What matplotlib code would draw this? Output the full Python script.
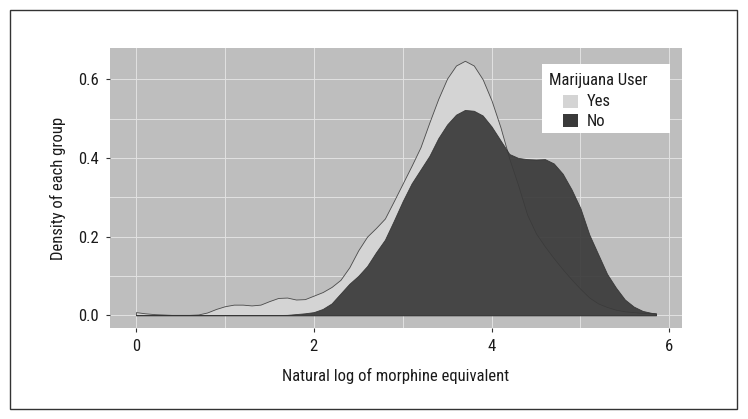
import matplotlib
matplotlib.use('Agg')
import matplotlib.pyplot as plt
from matplotlib.patches import Rectangle

# narrow grotesque, close to the Arial Narrow of the original
plt.rcParams['font.family'] = ['Roboto Condensed', 'Archivo Narrow',
                               'Liberation Sans', 'DejaVu Sans']
FS = 12

# density of natural log of morphine equivalent
x_yes = [0.0, 0.1, 0.2, 0.3, 0.4, 0.5, 0.6, 0.7, 0.8, 0.9,
         1.0, 1.1, 1.2, 1.3, 1.4, 1.5, 1.6, 1.7, 1.8, 1.9,
         2.0, 2.1, 2.2, 2.3, 2.4, 2.5, 2.6, 2.7, 2.8, 2.9,
         3.0, 3.1, 3.2, 3.3, 3.4, 3.5, 3.6, 3.7, 3.8, 3.9,
         4.0, 4.1, 4.2, 4.3, 4.4, 4.5, 4.6, 4.7, 4.8, 4.9,
         5.0, 5.1, 5.2, 5.3, 5.4, 5.5, 5.6, 5.7, 5.8, 5.85]
d_yes = [0.008, 0.005, 0.003, 0.002, 0.001, 0.001, 0.001, 0.002, 0.007, 0.016,
         0.023, 0.027, 0.027, 0.025, 0.027, 0.036, 0.044, 0.045, 0.040, 0.041,
         0.050, 0.059, 0.072, 0.090, 0.122, 0.165, 0.200, 0.222, 0.246, 0.290,
         0.335, 0.380, 0.427, 0.490, 0.550, 0.602, 0.635, 0.647, 0.635, 0.600,
         0.546, 0.478, 0.398, 0.330, 0.256, 0.208, 0.175, 0.145, 0.117, 0.091,
         0.067, 0.045, 0.030, 0.021, 0.014, 0.010, 0.008, 0.006, 0.005, 0.004]

x_no = x_yes
d_no = [0.0005, 0.0005, 0.0005, 0.0005, 0.0005, 0.0005, 0.0005, 0.0005, 0.0005, 0.0005,
        0.0005, 0.0005, 0.0005, 0.0005, 0.0005, 0.0005, 0.0007, 0.001, 0.003, 0.005,
        0.008, 0.016, 0.030, 0.055, 0.080, 0.100, 0.125, 0.160, 0.192, 0.240,
        0.290, 0.335, 0.370, 0.405, 0.450, 0.485, 0.510, 0.522, 0.520, 0.508,
        0.480, 0.445, 0.410, 0.400, 0.397, 0.396, 0.397, 0.386, 0.360, 0.320,
        0.272, 0.205, 0.155, 0.105, 0.070, 0.040, 0.022, 0.011, 0.006, 0.005]

groups = ['Yes', 'No']
fills = {'Yes': '#d4d4d4', 'No': '#3a3a3a'}
W, H = 748, 419


def fx(px):
    return px / W


def fy(py):
    return 1 - py / H


fig = plt.figure(figsize=(W / 100, H / 100), dpi=100)
fig.patches.append(Rectangle((fx(10), fy(409)), 727 / W, 399 / H,
                             transform=fig.transFigure, fill=False,
                             edgecolor='#333333', linewidth=1.0))

ax = fig.add_axes([fx(110), fy(328), 572 / W, 280 / H])
ax.set_facecolor('#bebebe')

ax.fill_between(x_yes, 0, d_yes, facecolor=fills['Yes'], edgecolor='#4a4a4a',
                linewidth=0.6, zorder=2)
ax.fill_between(x_no, 0, d_no, facecolor=fills['No'], edgecolor='#333333',
                linewidth=0.6, alpha=0.92, zorder=3)

ax.set_xlim(-0.2925, 6.1425)
ax.set_ylim(-0.0324, 0.6795)
ax.set_xticks([0, 2, 4, 6])
ax.set_xticks([1, 3, 5], minor=True)
ax.set_yticks([0.0, 0.2, 0.4, 0.6])
ax.set_yticklabels(['0.0', '0.2', '0.4', '0.6'])
ax.set_yticks([0.1, 0.3, 0.5], minor=True)
ax.grid(True, which='both', color='#e2e2e2', linewidth=0.7, zorder=1)
ax.set_axisbelow(True)
for s in ax.spines.values():
    s.set_visible(False)
ax.tick_params(which='major', length=3, width=0.8, color='#333333',
               labelsize=FS, labelcolor='#1a1a1a', pad=5)
ax.tick_params(which='minor', length=0)

ax.set_xlabel('Natural log of morphine equivalent', fontsize=FS,
              color='#1a1a1a', labelpad=10)
ax.set_ylabel('Density of each group', fontsize=FS, color='#1a1a1a',
              labelpad=9)

# legend, drawn as ggplot lays it out (title, then indented keys)
fig.patches.append(Rectangle((fx(542), fy(133)), 128 / W, 69 / H,
                             transform=fig.transFigure, facecolor='white',
                             edgecolor='none', zorder=5))
fig.text(fx(549), fy(81), 'Marijuana User', fontsize=FS, color='#1a1a1a',
         ha='left', va='center', zorder=6)
for i, g in enumerate(groups):
    cy = 102 + i * 19
    fig.patches.append(Rectangle((fx(563), fy(cy + 6.5)), 15 / W, 13 / H,
                                 transform=fig.transFigure,
                                 facecolor=fills[g], edgecolor='none',
                                 zorder=6))
    fig.text(fx(587), fy(cy), g, fontsize=FS, color='#1a1a1a',
             ha='left', va='center', zorder=6)

fig.savefig('out.png', dpi=100)
